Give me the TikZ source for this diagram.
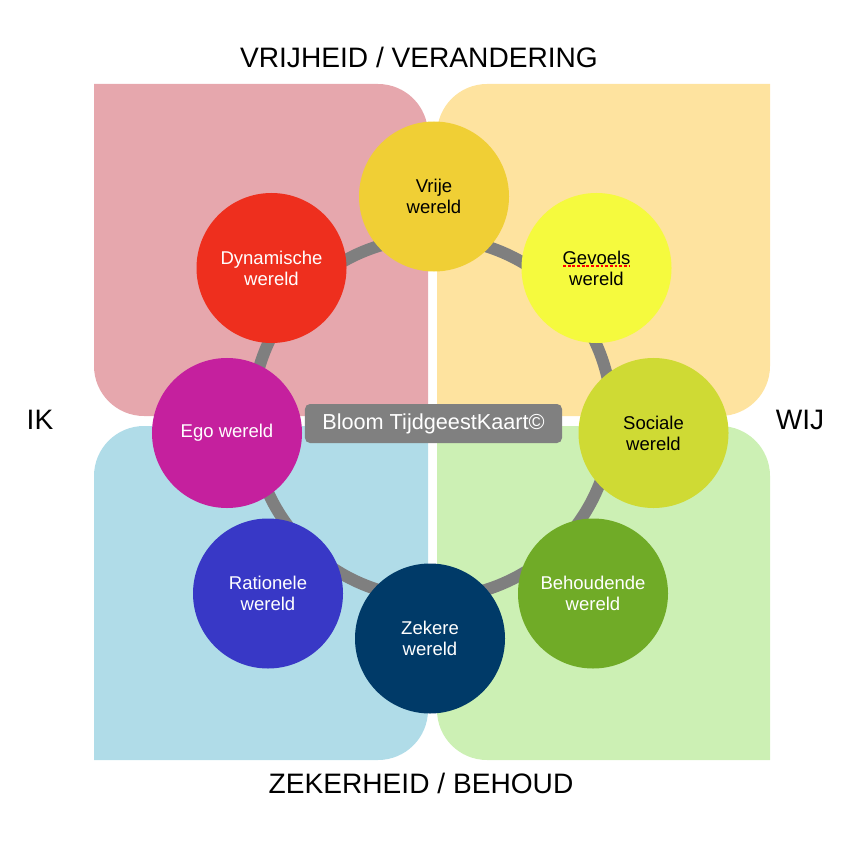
\documentclass[tikz,border=0pt]{standalone}
\usepackage{fontspec}
\setmainfont{Liberation Sans}
\definecolor{vakrood}{HTML}{E6A7AD}
\definecolor{vakgeel}{HTML}{FEE39F}
\definecolor{vakblauw}{HTML}{B0DCE8}
\definecolor{vakgroen}{HTML}{CCF0B4}
\definecolor{ringgrijs}{HTML}{7F7F7F}
\definecolor{kaartgrijs}{HTML}{808080}
\definecolor{vrijkleur}{HTML}{F0CF35}
\definecolor{dynamkleur}{HTML}{EE2F1E}
\definecolor{gevoelkleur}{HTML}{F5FA3E}
\definecolor{egokleur}{HTML}{C5209E}
\definecolor{sociaalkleur}{HTML}{CFDA34}
\definecolor{rationeelkleur}{HTML}{3838C6}
\definecolor{zekerkleur}{HTML}{003A68}
\definecolor{behoudkleur}{HTML}{70AB27}

\begin{document}
\begin{tikzpicture}[x=0.03cm,y=-0.03cm,
    wereld/.style={circle,inner sep=0pt,minimum size=4.5cm,align=center,font=\fontsize{15.8}{18}\selectfont},
    as/.style={anchor=base,font=\fontsize{24}{28}\selectfont}]
\useasboundingbox (0,0) rectangle (850,850);
% vier kwadranten
\fill[vakrood] (94,250) -- (94,84) -- (261,84) [rounded corners=1.5cm] -- (428,84) -- (428,250) [sharp corners] -- (428,416) -- (261,416) [rounded corners=1.5cm] -- (94,416) -- cycle;
\fill[vakgeel] (437,250) [rounded corners=1.5cm] -- (437,84) -- (603,84) [sharp corners] -- (770,84) -- (770,250) [rounded corners=1.5cm] -- (770,416) -- (603,416) [sharp corners] -- (437,416) -- cycle;
\fill[vakblauw] (94,593) [rounded corners=1.5cm] -- (94,426) -- (261,426) [sharp corners] -- (428,426) -- (428,593) [rounded corners=1.5cm] -- (428,760) -- (261,760) [sharp corners] -- (94,760) -- cycle;
\fill[vakgroen] (437,593) -- (437,426) -- (603,426) [rounded corners=1.5cm] -- (770,426) -- (770,593) [sharp corners] -- (770,760) -- (603,760) [rounded corners=1.5cm] -- (437,760) -- cycle;
% ring
\coordinate (midden) at (432,418);
\draw[ringgrijs,line width=0.36cm] (midden) circle[radius=5.4cm];
% werelden
\node[wereld,fill=vrijkleur] (vrij) at (434,196.5) {Vrije\\wereld};
\node[wereld,fill=dynamkleur,text=white] (dynamisch) at (271.5,268) {Dynamische\\wereld};
\node[wereld,fill=gevoelkleur] (gevoel) at (596.5,268) {Gevoels\\wereld};
\node[wereld,fill=egokleur,text=white] (ego) at (227,433) {Ego wereld};
\node[wereld,fill=sociaalkleur] (sociaal) at (653.5,433) {Sociale\\wereld};
\node[wereld,fill=rationeelkleur,text=white] (rationeel) at (268,593.5) {Rationele\\wereld};
\node[wereld,fill=behoudkleur,text=white] (behoud) at (593,593.5) {Behoudende\\wereld};
\node[wereld,fill=zekerkleur,text=white] (zeker) at (430,638.5) {Zekere\\wereld};
\draw[red,line width=1.7pt,dash pattern=on 2.5pt off 1.5pt] (563,266) -- (630,266);
% midden label
\node[fill=kaartgrijs,rounded corners=0.15cm,minimum width=7.71cm,minimum height=1.17cm,text=white,font=\fontsize{18.5}{22}\selectfont] (kaart) at (433.5,423.5) {Bloom TijdgeestKaart©};
% assen
\node[as] (vrijheid) at (419,68) {VRIJHEID / VERANDERING};
\node[as] (zekerheid) at (421,793) {ZEKERHEID / BEHOUD};
\node[as] (ik) at (40,429) {IK};
\node[as] (wij) at (800,429) {WIJ};
\end{tikzpicture}
\end{document}
